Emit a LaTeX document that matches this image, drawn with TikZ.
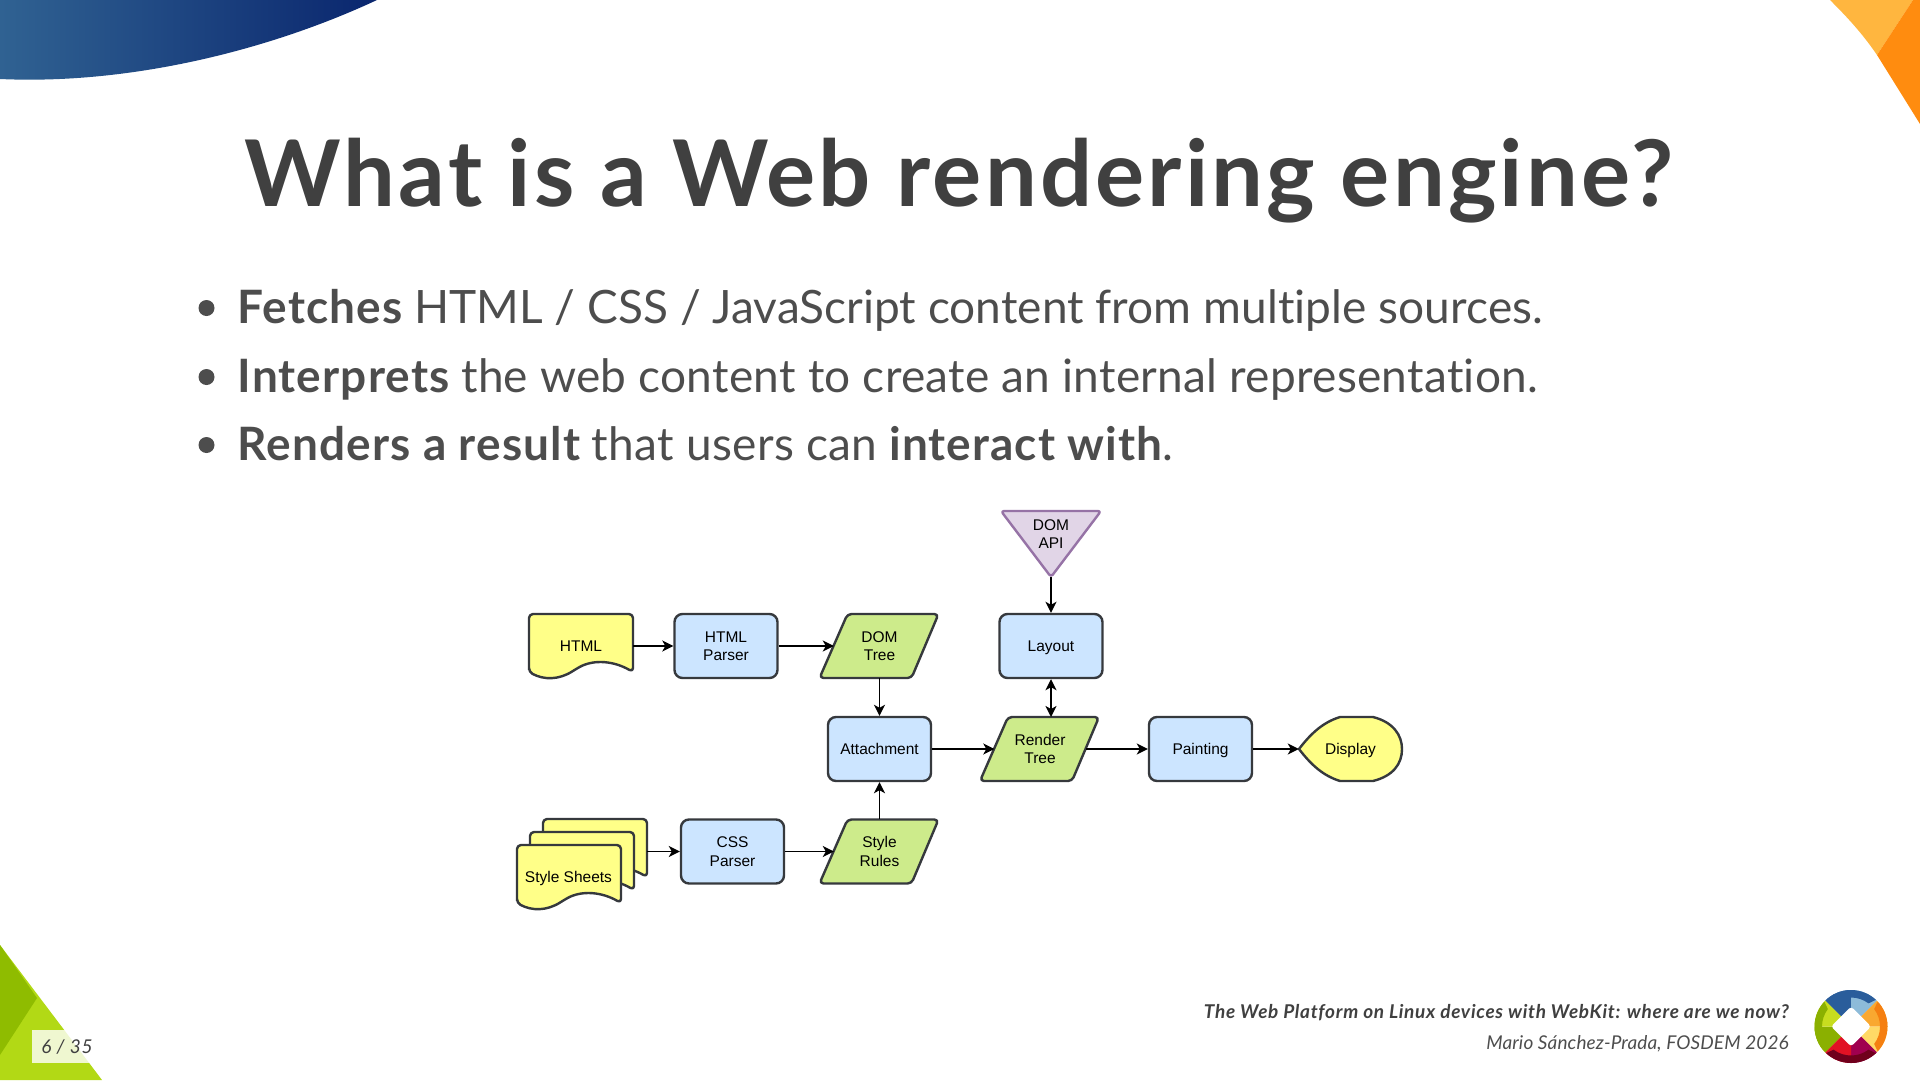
\documentclass[tikz,border=0pt]{standalone}
\usepackage{xcolor}
\usepackage{fontspec}
\usepackage{tikz}
\usetikzlibrary{arrows.meta, positioning, calc}
\setmainfont{Lato}[Ligatures=NoCommon]
\newfontfamily\chartfont{Liberation Sans}
\definecolor{myink}{RGB}{64,64,64}
\definecolor{mybody}{RGB}{77,77,77}
\definecolor{myframe}{RGB}{54,57,61}
\definecolor{hdrblue}{RGB}{204,229,255}
\definecolor{hdrgreen}{RGB}{205,235,139}
\definecolor{hdryellow}{RGB}{255,255,136}
\definecolor{hdrpurple}{RGB}{225,213,231}
\definecolor{mypurple}{RGB}{150,115,166}
\definecolor{myorange}{RGB}{255,182,63}
\definecolor{mydeep}{RGB}{255,140,15}
\definecolor{mylime}{RGB}{178,217,21}
\definecolor{myleaf}{RGB}{143,188,0}
\definecolor{logoblue}{RGB}{42,93,155}
\definecolor{logosky}{RGB}{141,187,217}
\definecolor{logoamber}{RGB}{249,168,48}
\definecolor{logobutter}{RGB}{255,217,102}
\definecolor{logorange}{RGB}{245,127,16}
\definecolor{logored}{RGB}{225,18,36}
\definecolor{logoplum}{RGB}{160,0,79}
\definecolor{logomaroon}{RGB}{112,0,28}
\definecolor{logoolive}{RGB}{139,176,0}
\definecolor{logolime}{RGB}{199,221,31}
\tikzset{
  procbox/.style={rectangle, draw=myframe, fill=hdrblue, minimum width=103pt, minimum height=64pt,
    align=center, text depth=0pt, font=\chartfont\fontsize{15.5}{18.5}\selectfont, rounded corners=8pt, line width=2.4pt, inner sep=0pt},
  chartline/.style={draw=myframe, line width=2.4pt, rounded corners=4pt, line join=round},
  chartlabel/.style={align=center, text depth=0pt, font=\chartfont\fontsize{15.5}{18.5}\selectfont, inner sep=0pt},
  twolines/.style={text depth=-2pt},
  arrow/.style={-{Stealth[length=11pt,width=11pt,inset=3pt]}, line width=1.8pt, color=black},
  bothways/.style={{Stealth[length=11pt,width=11pt,inset=3pt]}-{Stealth[length=11pt,width=11pt,inset=3pt]}, line width=1.8pt, color=black},
  bullettext/.style={anchor=base west, inner sep=0pt, text=mybody, font=\fontsize{46}{52}\selectfont}
}
\newcommand{\keyword}[1]{{\bfseries\addfontfeature{LetterSpace=2.4}#1}}
% slanted data box, centre at #2,#3
\newcommand{\datanode}[4]{
  \draw[chartline, fill=hdrgreen] ({#2-60},{#3+32}) -- ({#2-32},{#3-32}) -- ({#2+59},{#3-32}) -- ({#2+32},{#3+32}) -- cycle;
  \node[chartlabel, twolines, minimum width=91pt, minimum height=64pt] (#1) at (#2,#3) {#4};
}
% page with a wavy lower edge, top left corner at #1,#2
\newcommand{\pagepath}[2]{
  \draw[chartline, fill=hdryellow] ({#1},{#2+58}) -- ({#1},{#2}) -- ({#1+104},{#2}) -- ({#1+104},{#2+58})
    .. controls ({#1+85},{#2+47}) and ({#1+65},{#2+45}) .. ({#1+47},{#2+55})
    .. controls ({#1+30},{#2+66}) and ({#1+15},{#2+66}) .. ({#1},{#2+58}) -- cycle;
}
\begin{document}
\begin{tikzpicture}[x=1pt, y=-1pt]
  \useasboundingbox (0,0) rectangle (1920,1080);

  % Slide corners
  \shade[left color={rgb,255:red,48;green,98;blue,146}, right color={rgb,255:red,10;green,38;blue,110}]
    (0,0) -- (0,79) .. controls (130,85) and (270,50) .. (377,0) -- cycle;
  \fill[myorange] (1830,0) -- (1913,0) -- (1877,55) .. controls (1862,33) and (1847,17) .. (1830,0) -- cycle;
  \fill[mydeep] (1913,0) -- (1920,0) -- (1920,124) -- (1877,55) -- cycle;
  \fill[mylime] (0,945) -- (102,1080) -- (0,1080) -- cycle;
  \fill[myleaf] (0,945) -- (37,998) -- (0,1055) -- cycle;
  \fill[white, fill opacity=0.8] (32,1030) rectangle (95,1063);

  % Title and bullets
  \node[inner sep=0pt, text=myink, font=\fontsize{92}{100}\selectfont\bfseries\addfontfeature{LetterSpace=3.4}] (title) at (959,181) {What is a Web rendering engine?};
  \fill[mybody] (206.5,308) circle (8) (206.5,377) circle (8) (206.5,445) circle (8);
  \node[bullettext] (line1) at (237.5,323) {\keyword{Fetches} {\addfontfeature{LetterSpace=0.1}HTML / CSS / JavaScript content from multiple sources.}};
  \node[bullettext] (line2) at (237.5,392) {\keyword{Interprets} {\addfontfeature{LetterSpace=0.6}the web content to create an internal representation.}};
  \node[bullettext] (line3) at (237.5,460) {\keyword{Renders a result} {\addfontfeature{LetterSpace=0.8}that users can} \keyword{interact with}.};

  % Upper row
  \pagepath{529}{614}
  \node[chartlabel, minimum width=104pt, minimum height=64pt] (html) at (581,646) {HTML};
  \node[procbox, twolines] (htmlparser) at (726,646) {HTML\\Parser};
  \datanode{domtree}{879.5}{646}{DOM\\Tree}
  \draw[draw=mypurple, fill=hdrpurple, line width=2.4pt, rounded corners=3pt, line join=round]
    (1001,511) -- (1101,511) -- (1051,577) -- cycle;
  \node[chartlabel] (domapi) at (1051,534) {DOM\\API};
  \coordinate (domapitip) at (1051,577);
  \node[procbox] (layout) at (1051,646) {Layout};

  % Middle row
  \node[procbox] (attachment) at (879.5,749) {Attachment};
  \datanode{rendertree}{1040}{749}{Render\\Tree}
  \coordinate (rendertop) at (1051,717);
  \node[procbox] (painting) at (1200.5,749) {Painting};
  \draw[chartline, fill=hdryellow, rounded corners=0pt] (1299,749) .. controls (1312,732) and (1324,722) .. (1340,717) -- (1373,717)
    .. controls (1393,722) and (1402,735) .. (1402,749) .. controls (1402,764) and (1393,776) .. (1373,781) -- (1340,781)
    .. controls (1324,776) and (1312,766) .. (1299,749) -- cycle;
  \node[chartlabel, minimum width=103pt, minimum height=64pt] (display) at (1350.5,749) {Display};

  % Lower row
  \pagepath{543}{819}
  \pagepath{530}{832}
  \pagepath{517}{845}
  \node[chartlabel] (sheets) at (568.5,877) {Style Sheets};
  \coordinate (sheetsout) at (647,851.5);
  \node[procbox, twolines] (cssparser) at (732.5,851.5) {CSS\\Parser};
  \datanode{stylerules}{879.5}{851.5}{Style\\Rules}

  \draw[arrow] (html.east) -- (htmlparser.west);
  \draw[arrow] (htmlparser) -- (domtree);
  \draw[arrow] (domtree) -- (attachment);
  \draw[arrow] (domapitip) -- (layout);
  \draw[bothways] (layout) -- (rendertop);
  \draw[arrow] (attachment) -- (rendertree);
  \draw[arrow] (rendertree) -- (painting);
  \draw[arrow] (painting) -- (display);
  \draw[arrow] (sheetsout) -- (cssparser);
  \draw[arrow] (cssparser) -- (stylerules);
  \draw[arrow] (stylerules) -- (attachment);

  % Footer
  \node[inner sep=0pt, text=myink, font=\fontsize{19}{21}\selectfont\itshape\addfontfeature{LetterSpace=4}] (pagenum) at (67,1047) {6 / 35};
  \node[anchor=base east, inner sep=0pt, text=myink, font=\fontsize{19}{21}\selectfont\itshape\bfseries\addfontfeature{LetterSpace=3.7}] (talk) at (1789,1018) {The Web Platform on Linux devices with WebKit: where are we now?};
  \node[anchor=base east, inner sep=0pt, text=mybody, font=\fontsize{19}{21}\selectfont\itshape\addfontfeature{LetterSpace=0.7}] (speaker) at (1789,1049) {Mario Sánchez-Prada, FOSDEM 2026};

  % Logo
  \begin{scope}[shift={(1851,1026.5)}]
    \clip (0,0) circle (36.5);
    \foreach \ang/\cola/\colb/\colc in {-135/logoblue/logosky/logoblue, -45/logoamber/logobutter/logorange,
        45/logoplum/logored/logomaroon, 135/logoolive/logolime/logoolive} {
      \fill[\cola] (0,0) -- (\ang:60) -- (\ang+45:60) -- cycle;
      \fill[\colb] (0,0) -- (\ang+45:60) -- (\ang+90:60) -- cycle;
      \fill[\colc] (\ang+8:29) arc[start angle=\ang+8, end angle=\ang+82, radius=29] -- (\ang+90:40) arc[start angle=\ang+90, end angle=\ang, radius=40] -- cycle;
    }
    \fill[white, rounded corners=3pt] (0,-20) -- (20,0) -- (0,20) -- (-20,0) -- cycle;
  \end{scope}
\end{tikzpicture}
\end{document}
